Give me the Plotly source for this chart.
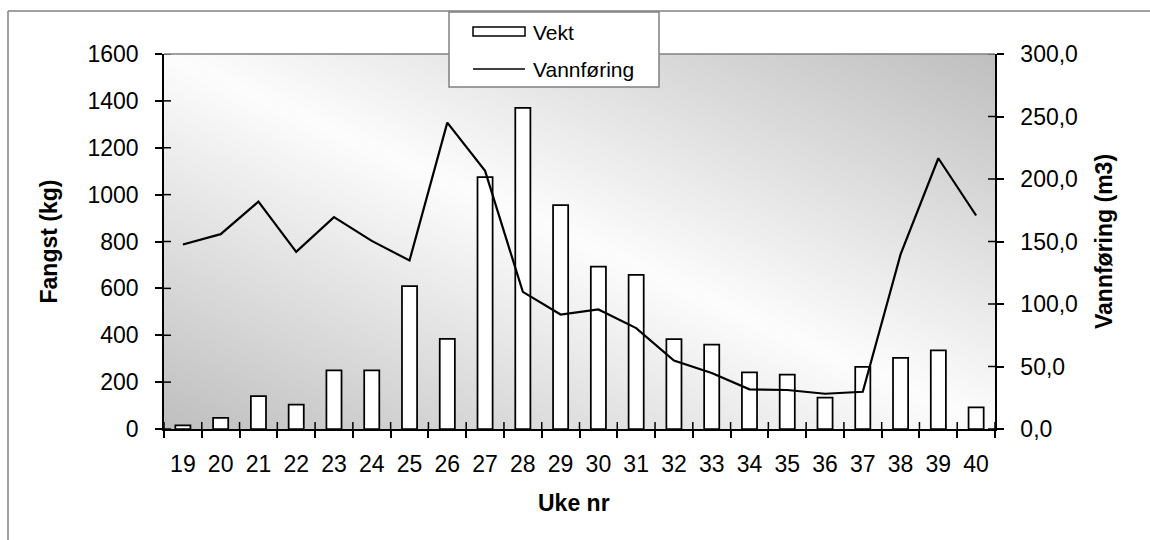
import base64
import struct
import zlib

import numpy as np
import plotly.graph_objects as go

# Weekly catch (kg) and water discharge (m3) per week number
weeks = [str(w) for w in range(19, 41)]
vekt = [15, 48, 140, 104, 250, 250, 610, 385, 1075, 1370, 955,
        693, 658, 383, 360, 242, 232, 134, 265, 303, 336, 92]
vannforing = [147.6, 155.9, 181.9, 141.7, 169.5, 150.5, 134.8, 245.1, 206.5, 109.7, 91.6,
              95.6, 80.7, 54.8, 44.8, 31.7, 31.2, 28.2, 29.8, 139.7, 216.6, 170.8]

fangst_ticks = [0, 200, 400, 600, 800, 1000, 1200, 1400, 1600]
vann_ticks = [0, 50, 100, 150, 200, 250, 300]
vann_labels = ["0,0", "50,0", "100,0", "150,0", "200,0", "250,0", "300,0"]

FONT = "Liberation Sans, Arial, sans-serif"
W, H = 1150, 540
L, R, T, B = 164, 995, 54, 429          # plot area in pixels
PW, PH = R - L, B - T


def px(x):
    return (x - L) / PW


def py(y):
    return (B - y) / PH


def gray_png(arr):
    h, w = arr.shape
    raw = b"".join(b"\x00" + arr[i].tobytes() for i in range(h))

    def chunk(tag, data):
        return (struct.pack(">I", len(data)) + tag + data
                + struct.pack(">I", zlib.crc32(tag + data) & 0xFFFFFFFF))

    ihdr = struct.pack(">IIBBBBB", w, h, 8, 0, 0, 0, 0)
    return (b"\x89PNG\r\n\x1a\n" + chunk(b"IHDR", ihdr)
            + chunk(b"IDAT", zlib.compress(raw, 9)) + chunk(b"IEND", b""))


# diagonal gradient: light along the top-left/bottom-right diagonal, darker towards the other corners
u = (np.arange(PW) + 0.5) / PW
v = 1 - (np.arange(PH) + 0.5) / PH
d = np.abs(u[None, :] + v[:, None] - 1)
shade = np.clip(253 - 62 * d, 0, 255).astype(np.uint8)
bg_uri = "data:image/png;base64," + base64.b64encode(gray_png(shade)).decode()

fig = go.Figure()
fig.add_trace(go.Bar(
    x=weeks, y=vekt, name="Vekt", width=0.4,
    marker=dict(color="white", line=dict(color="black", width=1.75)),
    yaxis="y", showlegend=False,
))
fig.add_trace(go.Scatter(
    x=weeks, y=vannforing, name="Vannføring", mode="lines",
    line=dict(color="black", width=2.2), yaxis="y2", showlegend=False,
))

tickfont = dict(family=FONT, size=23, color="black")
fig.update_layout(
    width=W, height=H, autosize=False,
    margin=dict(l=L, r=W - R, t=T, b=H - B, pad=0),
    paper_bgcolor="white", plot_bgcolor="rgba(0,0,0,0)",
    showlegend=False,
    xaxis=dict(type="category", range=[-0.5, len(weeks) - 0.5], tickson="boundaries",
               ticks="outside", ticklen=7, tickwidth=1.5, tickcolor="black",
               showline=True, linecolor="black", linewidth=1.5, showgrid=False,
               tickfont=tickfont, ticklabelstandoff=14, fixedrange=True),
    yaxis=dict(range=[0, 1600], tickvals=fangst_ticks, ticktext=[str(t) for t in fangst_ticks],
               ticks="outside", ticklen=7, tickwidth=1.5, tickcolor="black",
               showline=True, linecolor="black", linewidth=1.5, showgrid=False,
               zeroline=False, tickfont=tickfont, ticklabelstandoff=12),
    yaxis2=dict(range=[0, 300], tickvals=vann_ticks, ticktext=vann_labels, overlaying="y",
                side="right", ticks="outside", ticklen=7, tickwidth=1.5, tickcolor="black",
                showline=True, linecolor="black", linewidth=1.5, showgrid=False,
                zeroline=False, tickfont=tickfont, ticklabelstandoff=12),
    images=[dict(source=bg_uri, xref="paper", yref="paper", x=0, y=1, sizex=1, sizey=1,
                 xanchor="left", yanchor="top", sizing="stretch", layer="below")],
)

shapes = []
# inner halves of the crossing tick marks
for t in fangst_ticks:
    shapes.append(dict(type="line", xref="x domain", yref="y", x0=0, x1=7 / PW, y0=t, y1=t,
                       line=dict(color="black", width=1.5)))
for t in vann_ticks:
    shapes.append(dict(type="line", xref="x domain", yref="y2", x0=1 - 7 / PW, x1=1, y0=t, y1=t,
                       line=dict(color="black", width=1.5)))
for i in range(len(weeks) + 1):
    shapes.append(dict(type="line", xref="x domain", yref="y domain", x0=i / len(weeks),
                       x1=i / len(weeks), y0=0, y1=7 / PH, line=dict(color="black", width=1.5)))
# plot area top border
shapes.append(dict(type="line", xref="paper", yref="paper", x0=0, x1=1, y0=1, y1=1,
                   line=dict(color="#808080", width=1.5)))
# chart frame (left and top edges)
shapes.append(dict(type="line", xref="paper", yref="paper", x0=px(8), x1=px(8), y0=py(11), y1=py(540),
                   line=dict(color="#808080", width=1.5)))
shapes.append(dict(type="line", xref="paper", yref="paper", x0=px(8), x1=px(1150), y0=py(11), y1=py(11),
                   line=dict(color="#808080", width=1.5)))
# legend box and keys
shapes.append(dict(type="rect", xref="paper", yref="paper", x0=px(449), x1=px(659), y0=py(87), y1=py(12),
                   fillcolor="white", line=dict(color="#808080", width=1.5)))
shapes.append(dict(type="rect", xref="paper", yref="paper", x0=px(473), x1=px(525), y0=py(36), y1=py(27),
                   fillcolor="white", line=dict(color="black", width=1.5)))
shapes.append(dict(type="line", xref="paper", yref="paper", x0=px(473), x1=px(525), y0=py(69), y1=py(69),
                   line=dict(color="black", width=1.5)))
fig.update_layout(shapes=shapes)

annotations = [
    dict(text="Vekt", x=px(531), y=py(32), xanchor="left", yanchor="middle"),
    dict(text="Vannføring", x=px(531), y=py(69), xanchor="left", yanchor="middle"),
]
for a in annotations:
    a.update(xref="paper", yref="paper", showarrow=False, font=dict(family=FONT, size=21, color="black"))
titlefont = dict(family=FONT, size=23, color="black")
annotations += [
    dict(text="<b>Fangst (kg)</b>", x=px(48), y=0.5, textangle=-90),
    dict(text="<b>Vannføring (m3)</b>", x=px(1104), y=py(242), textangle=-90),
    dict(text="<b>Uke nr</b>", x=px(574), y=py(503)),
]
for a in annotations[2:]:
    a.update(xref="paper", yref="paper", showarrow=False, xanchor="center", yanchor="middle",
             font=titlefont)
fig.update_layout(annotations=annotations)

fig.write_html("out.html")
